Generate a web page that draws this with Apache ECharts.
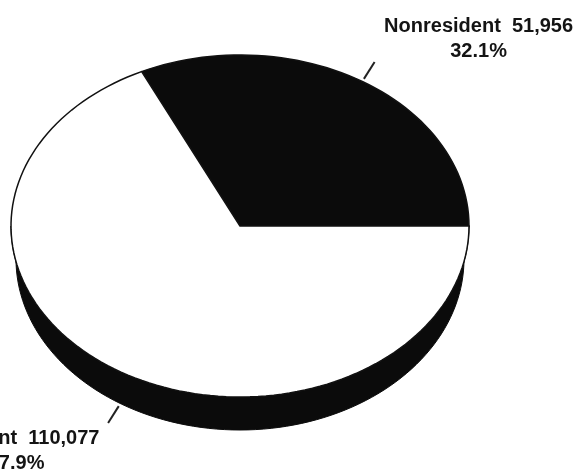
<!DOCTYPE html>
<html>
<head>
<meta charset="utf-8">
<title>Resident / Nonresident</title>
<script src="https://cdn.jsdelivr.net/npm/echarts@6/dist/echarts.min.js"></script>
<style>
  html, body { margin: 0; padding: 0; background: #fff; }
  #chart { width: 579px; height: 470px; }
</style>
</head>
<body>
<div id="chart"></div>
<script>
const categories = ['Nonresident', 'Resident']
const values = [51956, 110077]
const faceColors = ['#0b0b0b', '#ffffff']

const total = values.reduce((a, b) => a + b, 0)
const startAngles = []
let acc = 0
values.forEach(v => { startAngles.push(acc / total * 360); acc += v })

// tilted pie: top ellipse, bottom ellipse a little narrower (side tapers at the ends)
const pie = { cx: 240, cy: 226, rx: 229, ry: 171, depth: 33, bottomRx: 224 }
const font = 'bold 20px "Liberation Sans", Arial, sans-serif'

function pt(deg, dy, rx) {
  const r = deg * Math.PI / 180
  return [pie.cx + (rx || pie.rx) * Math.cos(r), pie.cy - pie.ry * Math.sin(r) + (dy || 0)]
}

function arc(a0, a1, dy, rx) {
  const pts = []
  const n = Math.max(2, Math.ceil(Math.abs(a1 - a0) / 2))
  for (let i = 0; i <= n; i++) pts.push(pt(a0 + (a1 - a0) * i / n, dy, rx))
  return pts
}

function sliceRange(idx, val) {
  const a0 = startAngles[idx]
  return [a0, a0 + val / total * 360]
}

function renderSide(params, api) {
  const [a0, a1] = sliceRange(params.dataIndex, api.value(0))
  const lo = Math.max(a0, 180)
  const hi = Math.min(a1, 360)
  if (hi <= lo) return null
  const points = arc(lo, hi, 0).concat(arc(hi, lo, pie.depth, pie.bottomRx))
  return {
    type: 'polygon',
    shape: { points },
    style: { fill: '#0b0b0b', stroke: '#0b0b0b', lineWidth: 1 }
  }
}

function renderTop(params, api) {
  const i = params.dataIndex
  const val = api.value(0)
  const [a0, a1] = sliceRange(i, val)
  const points = [[pie.cx, pie.cy]].concat(arc(a0, a1, 0))

  const mid = (a0 + a1) / 2
  const r = mid * Math.PI / 180
  const dir = [Math.cos(r), -Math.sin(r)]
  const lower = Math.sin(r) < 0
  const base = pt(mid, lower ? pie.depth : 0, lower ? pie.bottomRx : pie.rx)
  const s = [base[0] + dir[0] * 3, base[1] + dir[1] * 3]
  const e = [s[0] + dir[0] * 20, s[1] + dir[1] * 20]

  const pct = (val / total * 100).toFixed(1) + '%'
  const text = categories[i] + '  ' + val.toLocaleString('en-US') + '\n' + pct
  const right = dir[0] > 0

  return {
    type: 'group',
    children: [
      {
        type: 'polygon',
        shape: { points },
        style: { fill: faceColors[i], stroke: '#111', lineWidth: 1.5 }
      },
      {
        type: 'line',
        shape: { x1: s[0], y1: s[1], x2: e[0], y2: e[1] },
        style: { stroke: '#222', lineWidth: 2 }
      },
      {
        type: 'text',
        style: {
          text,
          x: right ? e[0] + 104 : e[0] - 92,
          y: right ? e[1] + 2 : e[1] + 3,
          align: 'center',
          verticalAlign: right ? 'bottom' : 'top',
          font,
          lineHeight: 25,
          fill: '#141414'
        }
      }
    ]
  }
}

const seriesData = values.map((v, i) => ({ name: categories[i], value: v }))

const chart = echarts.init(document.getElementById('chart'))
chart.setOption({
  animation: false,
  backgroundColor: '#ffffff',
  series: [
    { type: 'custom', coordinateSystem: 'none', renderItem: renderSide, data: seriesData, z: 1 },
    { type: 'custom', coordinateSystem: 'none', renderItem: renderTop, data: seriesData, z: 2 }
  ]
})

window.addEventListener('resize', () => chart.resize())
</script>
</body>
</html>
